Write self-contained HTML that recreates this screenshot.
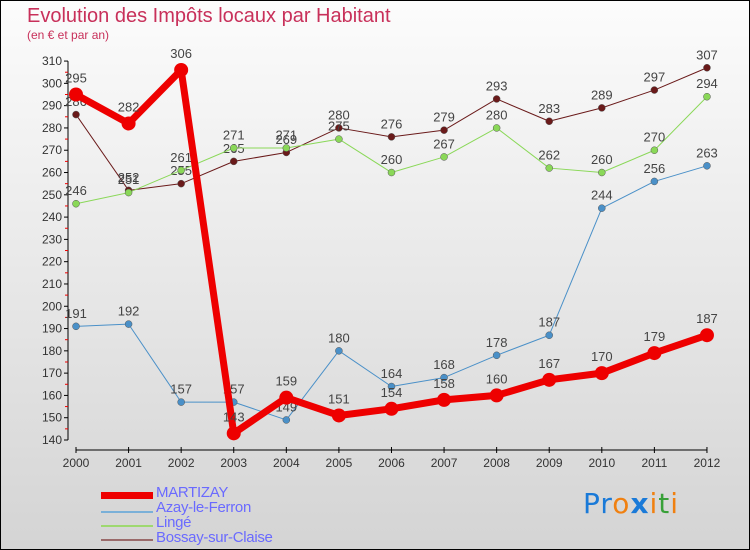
<!DOCTYPE html>
<html><head><meta charset="utf-8"><style>
body{margin:0}
#c{position:relative;width:748px;height:548px;border:1px solid #000;background:linear-gradient(#fcfcfc,#d4d4d4);font-family:"Liberation Sans","DejaVu Sans",sans-serif;overflow:hidden}
.t{position:absolute;left:26px;top:4px;font-size:20px;color:#c8305a;font-weight:300}
.s{position:absolute;left:26px;top:27px;font-size:12px;color:#c8305a}
.lg{position:absolute;left:155px;font-size:15px;color:#6a6aff;letter-spacing:-0.3px}
.sw{position:absolute;left:100px;width:52px}
</style></head><body>
<div id="c">
<div class="t">Evolution des Impôts locaux par Habitant</div>
<div class="s">(en € et par an)</div>
<svg id="g" width="748" height="548" style="position:absolute;left:0;top:0"></svg>
<div class="sw" style="top:491px;height:7px;background:#e00"></div>
<div class="sw" style="top:510px;height:2px;background:#7ab0d8"></div>
<div class="sw" style="top:524px;height:2px;background:#9ed870"></div>
<div class="sw" style="top:538px;height:2px;background:#9a6a6a"></div>
<div class="lg" style="top:483px">MARTIZAY</div>
<div class="lg" style="top:498px">Azay-le-Ferron</div>
<div class="lg" style="top:513px">Lingé</div>
<div class="lg" style="top:528px">Bossay-sur-Claise</div>
<div style="position:absolute;left:582px;top:486px;font-size:28px;font-family:'DejaVu Sans',sans-serif;letter-spacing:1px"><span style="color:#1a7ad8">Pr</span><span style="color:#f08010">o</span><span style="color:#1a7ad8;font-weight:bold">x</span><span style="color:#f08010">i</span><span style="color:#38a038">t</span><span style="color:#f08010">i</span></div>
</div>
<script>
const years=[2000,2001,2002,2003,2004,2005,2006,2007,2008,2009,2010,2011,2012];
const yTicks=[140,150,160,170,180,190,200,210,220,230,240,250,260,270,280,290,300,310];
const martizay=[295,282,306,143,159,151,154,158,160,167,170,179,187];
const azay=[191,192,157,157,149,180,164,168,178,187,244,256,263];
const linge=[246,251,261,271,271,275,260,267,280,262,260,270,294];
const bossay=[286,252,255,265,269,280,276,279,293,283,289,297,307];
const NS="http://www.w3.org/2000/svg",g=document.getElementById('g');
const X=i=>75+i*52.58, Y=v=>439-(v-140)*2.229;
function el(t,a,n){const e=document.createElementNS(NS,t);for(const k in a)e.setAttribute(k,a[k]);


g.appendChild(e);return e;}
el('line',{x1:67,y1:Y(310),x2:67,y2:Y(140),stroke:'#000'},'y-axis');
yTicks.forEach(v=>{el('line',{x1:63,x2:67,y1:Y(v),y2:Y(v),stroke:'#000'},'y-tick');
const t=el('text',{x:61,y:Y(v)+4,'text-anchor':'end','font-size':12,fill:'#333'},'y-tick-label');t.textContent=v;
if(v<310){el('line',{x1:64,x2:67,y1:Y(v+5),y2:Y(v+5),stroke:'#e00'},'y-minor-tick');}});
el('line',{x1:X(0),y1:449,x2:X(12),y2:449,stroke:'#000'},'x-axis');
years.forEach((y,i)=>{el('line',{x1:X(i),x2:X(i),y1:446,y2:452,stroke:'#000'},'x-tick');
const t=el('text',{x:X(i),y:466,'text-anchor':'middle','font-size':12,fill:'#333'},'x-tick-label');t.textContent=y;});
function series(d,col,w,r,name){
el('polyline',{points:d.map((v,i)=>X(i)+','+Y(v)).join(' '),fill:'none',stroke:col,'stroke-width':w,'stroke-linejoin':'round'},name+'-line');
d.forEach((v,i)=>{el('circle',{cx:X(i),cy:Y(v),r:r,fill:col,stroke:w>2?col:'#555','stroke-width':w>2?0:0.5},name+'-point');
const t=el('text',{x:X(i),y:Y(v)-(r+5),'text-anchor':'middle','font-size':13,fill:'#444'},name+'-value');t.textContent=v;});}
series(bossay,'#6a1a1a',1,3.5,'bossay');
series(linge,'#8ad858',1,3.5,'linge');
series(azay,'#4a90c8',1,3.5,'azay');
series(martizay,'#ee0000',7,7,'martizay');
</script>
</body></html>
